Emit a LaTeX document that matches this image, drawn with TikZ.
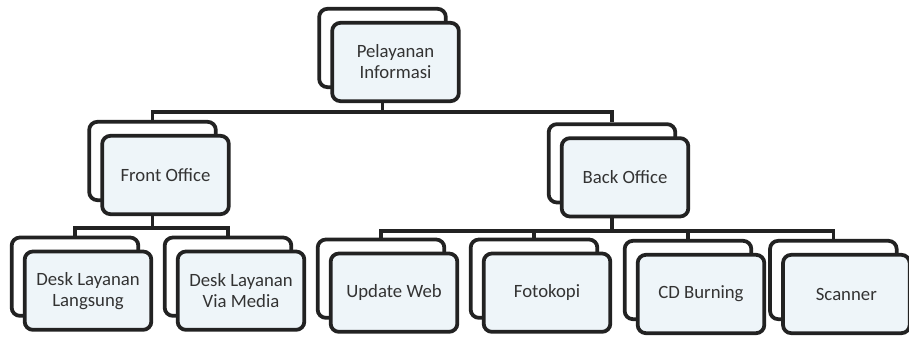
\documentclass[tikz,border=0pt]{standalone}
\usepackage{fontspec}
\setmainfont{Carlito}
\usepackage{tikz}
\usetikzlibrary{positioning,calc,backgrounds}
\definecolor{boxline}{HTML}{222222}
\definecolor{boxfill}{HTML}{EEF5F9}
\definecolor{boxtext}{HTML}{333333}

\begin{document}
\begin{tikzpicture}[
  backbox/.style={draw=boxline, line width=3.2pt, rounded corners=7pt, fill=white, minimum width=3.8cm, minimum height=2.35cm},
  unitbox/.style={backbox, fill=boxfill, text=boxtext, align=center, font=\fontsize{16}{18}\selectfont},
  link/.style={draw=boxline, line width=3pt}
]
\useasboundingbox (0,0) rectangle (27.27,-10.14);
% level 0
\node[backbox] (infoB) at (11.475,-1.44) {};
\node[unitbox] (info) at ([xshift=0.39cm,yshift=-0.42cm]infoB.center) {Pelayanan\\Informasi};
% level 1
\node[backbox] (frontB) at (4.575,-4.83) {};
\node[unitbox] (front) at ([xshift=0.39cm,yshift=-0.42cm]frontB.center) {Front Office};
\node[backbox] (backB) at (18.36,-4.9) {};
\node[unitbox] (back) at ([xshift=0.39cm,yshift=-0.42cm]backB.center) {Back Office};
% level 2
\node[backbox] (langsungB) at (2.25,-8.3) {};
\node[unitbox] (langsung) at ([xshift=0.39cm,yshift=-0.42cm]langsungB.center) {Desk Layanan\\Langsung};
\node[backbox] (mediaB) at (6.84,-8.3) {};
\node[unitbox] (media) at ([xshift=0.39cm,yshift=-0.42cm]mediaB.center) {Desk Layanan\\Via Media};
\node[backbox] (webB) at (11.43,-8.36) {};
\node[unitbox] (web) at ([xshift=0.39cm,yshift=-0.42cm]webB.center) {Update Web};
\node[backbox] (kopiB) at (16.02,-8.36) {};
\node[unitbox] (kopi) at ([xshift=0.39cm,yshift=-0.42cm]kopiB.center) {Fotokopi};
\node[backbox] (cdB) at (20.64,-8.4) {};
\node[unitbox] (cd) at ([xshift=0.39cm,yshift=-0.42cm]cdB.center) {CD Burning};
\node[backbox] (scanB) at (25.0,-8.4) {};
\node[unitbox] (scan) at ([xshift=0.39cm,yshift=-0.42cm]scanB.center) {Scanner};
% connectors
\coordinate (bar0) at (0,-3.36);
\coordinate (bar1) at (0,-6.84);
\coordinate (bar2) at (0,-6.93);
\begin{scope}[on background layer]
\draw[link] (infoB.center) -- (infoB.center |- bar0) -| (frontB.north);
\draw[link] (infoB.center |- bar0) -| (backB.north);
\draw[link] (frontB.center) -- (frontB.center |- bar1) -| (langsungB.north);
\draw[link] (frontB.center |- bar1) -| (mediaB.north);
\draw[link] (backB.center) -- (backB.center |- bar2) -| (webB.north);
\draw[link] (backB.center |- bar2) -| (kopiB.north);
\draw[link] (backB.center |- bar2) -| (cdB.north);
\draw[link] (backB.center |- bar2) -| (scanB.north);
\end{scope}
\end{tikzpicture}
\end{document}
